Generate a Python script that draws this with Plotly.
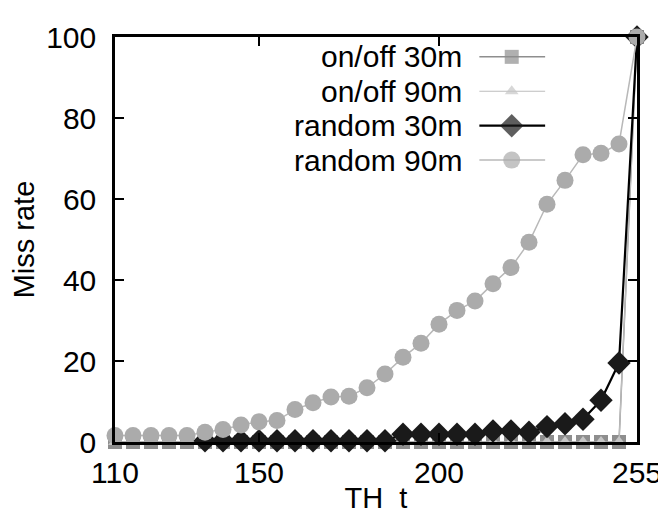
import plotly.graph_objects as go

# ---- data ----
th = [110, 115, 120, 125, 130, 135, 140, 145, 150, 155, 160, 165, 170, 175, 180,
      185, 190, 195, 200, 205, 210, 215, 220, 225, 230, 235, 240, 245, 250, 255]

onoff_30m = [0] * 29 + [100]
onoff_90m = [0] * 29 + [100]
random_30m = [None, None, None, None, None, 0.3, 0.3, 0.3, 0.3, 0.3, 0.3, 0.3, 0.3, 0.3, 0.3,
              0.3, 1.9, 1.9, 1.9, 1.9, 1.9, 2.7, 2.7, 2.4, 3.8, 4.5, 5.6, 10.3, 19.5, 100]
random_90m = [1.6, 1.6, 1.6, 1.6, 1.6, 2.4, 3.1, 4.2, 5.0, 5.3, 8.0, 9.7, 11.1, 11.3, 13.4,
              16.8, 20.9, 24.4, 29.1, 32.5, 34.8, 39.1, 43.1, 49.3, 58.7, 64.6, 70.9, 71.3, 73.6, 100]

series_names = ["on/off 30m", "on/off 90m", "random 30m", "random 90m"]
x_ticks = [110, 150, 200, 255]
y_ticks = [0, 20, 40, 60, 80, 100]

FONT = "Liberation Sans, Arial, Helvetica, sans-serif"
FS_TICK = 30
FS_KEY = 30
FS_TITLE = 29

styles = [
    dict(symbol="square", size=14, color="#8e8e8e", lcolor="#8e8e8e", lw=1.5),
    dict(symbol="triangle-up", size=12, color="#c6c6c6", lcolor="#bdbdbd", lw=1.2),
    dict(symbol="diamond", size=18, color="#1a1a1a", lcolor="#000000", lw=2.2),
    dict(symbol="circle", size=17, color="#ababab", lcolor="#b8b8b8", lw=1.5),
]
data = [onoff_30m, onoff_90m, random_30m, random_90m]

fig = go.Figure()
for name, ys, st in zip(series_names, data, styles):
    fig.add_trace(go.Scatter(
        x=th, y=ys, name=name, mode="lines+markers",
        line=dict(color=st["lcolor"], width=st["lw"]),
        marker=dict(symbol=st["symbol"], size=st["size"], color=st["color"],
                    line=dict(width=0)),
        cliponaxis=False, showlegend=False, connectgaps=False,
    ))

# ---- custom gnuplot-style key (text, then sample) on an overlay axis ----
key_rows = [0.951, 0.866, 0.781, 0.696]
kx0, kxm, kx1, ktext = 0.698, 0.760, 0.824, 0.667
annotations = []
for name, st, ky in zip(series_names, styles, key_rows):
    fig.add_trace(go.Scatter(
        x=[kx0, kxm, kx1], y=[ky, ky, ky], mode="lines+markers",
        xaxis="x2", yaxis="y2",
        line=dict(color=st["lcolor"], width=st["lw"]),
        marker=dict(symbol=st["symbol"], size=[0, st["size"], 0], color=st["color"],
                    line=dict(width=0)),
        showlegend=False, hoverinfo="skip", cliponaxis=False,
    ))
    annotations.append(dict(
        x=ktext, y=ky, xref="paper", yref="paper", text=name, showarrow=False,
        xanchor="right", yanchor="middle", borderpad=0,
        font=dict(family=FONT, size=FS_KEY, color="black"),
    ))

axis_common = dict(
    showline=True, linecolor="black", linewidth=2.5, mirror="ticks",
    ticks="inside", ticklen=9, tickwidth=2, tickcolor="black",
    showgrid=False, zeroline=False,
    tickfont=dict(family=FONT, size=FS_TICK, color="black"),
)

fig.update_layout(
    width=666, height=513,
    margin=dict(l=107, r=30, t=18, b=70),
    paper_bgcolor="white", plot_bgcolor="white",
    font=dict(family=FONT, size=FS_TICK, color="black"),
    xaxis=dict(range=[110, 255], tickvals=x_ticks, ticktext=[str(v) for v in x_ticks],
               title=dict(text="TH  t", font=dict(family=FONT, size=FS_TITLE), standoff=0),
               ticklabelstandoff=2, **axis_common),
    yaxis=dict(range=[0, 100], tickvals=y_ticks,
               title=dict(text="Miss rate", font=dict(family=FONT, size=FS_TITLE), standoff=6),
               ticklabelstandoff=10, **axis_common),
    xaxis2=dict(range=[0, 1], overlaying="x", visible=False, fixedrange=True),
    yaxis2=dict(range=[0, 1], overlaying="y", visible=False, fixedrange=True),
    annotations=annotations,
    showlegend=False,
)

fig.write_html("out.html")
